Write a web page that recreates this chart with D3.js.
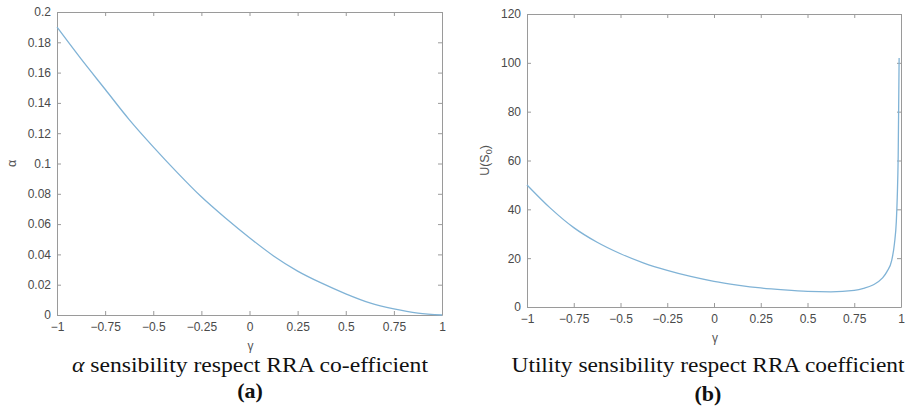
<!DOCTYPE html>
<html>
<head>
<meta charset="utf-8">
<script src="https://cdn.jsdelivr.net/npm/d3@7"></script>
<style>
  body { margin: 0; background: #fff; }
  .tick text { font-family: "Liberation Sans", Arial, sans-serif; font-size: 12px; fill: #4a4a4a; }
  .domain, .tick line { stroke: #9a9a9a; }
</style>
</head>
<body>
<div id="chart"></div>
<script>
// values
const xTicks = [-1, -0.75, -0.5, -0.25, 0, 0.25, 0.5, 0.75, 1];

const gammaA = [-1, -0.875, -0.75, -0.625, -0.5, -0.375, -0.25, -0.125, 0, 0.125, 0.25, 0.375, 0.5, 0.625, 0.75, 0.875, 1];
const alphaVals = [0.19, 0.169, 0.149, 0.129, 0.111, 0.094, 0.078, 0.064, 0.051, 0.039, 0.029, 0.021, 0.014, 0.008, 0.004, 0.0012, 0];
const alphaTicks = [0, 0.02, 0.04, 0.06, 0.08, 0.1, 0.12, 0.14, 0.16, 0.18, 0.2];

const gammaU = [-1, -0.875, -0.75, -0.625, -0.5, -0.375, -0.25, -0.125, 0, 0.125, 0.25, 0.375, 0.5, 0.625, 0.75, 0.8, 0.85, 0.9, 0.925, 0.95, 0.965, 0.975, 0.98, 0.985, 0.99];
const utilVals = [50, 40.5, 32.5, 26.5, 21.8, 18, 15, 12.5, 10.5, 9, 7.8, 7, 6.4, 6.2, 6.8, 7.6, 9, 11.8, 14.5, 19, 26, 35, 45, 62, 102];
const utilTicks = [0, 20, 40, 60, 80, 100, 120];

const W = 914, H = 415;
const lineColor = "#80b3d6";

const svg = d3.select("#chart").append("svg")
  .attr("width", W).attr("height", H)
  .style("background", "#fff");

function drawPanel(p) {
  const x = d3.scaleLinear().domain([-1, 1]).range([p.left, p.right]);
  const y = d3.scaleLinear().domain(p.yDomain).range([p.bottom, p.top]);
  const fmt = d3.format("~g");
  const g = svg.append("g");

  g.append("g")
    .attr("transform", `translate(0,${p.bottom})`)
    .call(d3.axisBottom(x).tickValues(xTicks).tickFormat(fmt).tickSize(-4).tickPadding(7).tickSizeOuter(0));
  g.append("g")
    .attr("transform", `translate(0,${p.top})`)
    .call(d3.axisTop(x).tickValues(xTicks).tickFormat("").tickSize(-4).tickSizeOuter(0));
  g.append("g")
    .attr("transform", `translate(${p.left},0)`)
    .call(d3.axisLeft(y).tickValues(p.yTicks).tickFormat(fmt).tickSize(-4).tickPadding(6).tickSizeOuter(0));
  g.append("g")
    .attr("transform", `translate(${p.right},0)`)
    .call(d3.axisRight(y).tickValues(p.yTicks).tickFormat("").tickSize(-4).tickSizeOuter(0));

  const line = d3.line()
    .x((d, i) => x(p.xs[i]))
    .y(d => y(d))
    .curve(d3.curveMonotoneX);

  g.append("path")
    .datum(p.ys)
    .attr("fill", "none")
    .attr("stroke", lineColor)
    .attr("stroke-width", 1.3)
    .attr("d", line);

  // x label
  g.append("text")
    .attr("x", (p.left + p.right) / 2 + 1)
    .attr("y", p.bottom + 35)
    .attr("text-anchor", "middle")
    .style("font-family", "Liberation Sans, Arial, sans-serif")
    .style("font-size", "12px")
    .style("fill", "#555")
    .text("γ");

  // y label
  const yl = g.append("text")
    .attr("transform", `translate(${p.yLabelX},${(p.top + p.bottom) / 2}) rotate(-90)`)
    .attr("text-anchor", "middle")
    .style("font-family", "Liberation Sans, Arial, sans-serif")
    .style("font-size", "12.5px")
    .style("fill", "#555");
  if (p.yLabelSub) {
    yl.append("tspan").text(p.yLabel);
    yl.append("tspan").attr("dy", 3).style("font-size", "9px").text(p.yLabelSub);
    yl.append("tspan").attr("dy", -3).text(")");
  } else {
    yl.text(p.yLabel);
  }

  // caption
  const cap = g.append("text")
    .attr("x", p.capX)
    .attr("y", 372)
    .attr("text-anchor", "middle")
    .attr("textLength", p.capWidth)
    .attr("lengthAdjust", "spacingAndGlyphs")
    .style("font-family", "Liberation Serif, 'Times New Roman', serif")
    .style("font-size", "22px")
    .style("fill", "#111");
  if (p.capItalic) {
    cap.append("tspan").style("font-style", "italic").text(p.capItalic);
  }
  cap.append("tspan").text(p.caption);

  g.append("text")
    .attr("x", p.capX)
    .attr("y", p.tagY)
    .attr("text-anchor", "middle")
    .style("font-family", "Liberation Serif, 'Times New Roman', serif")
    .style("font-size", "22px")
    .style("font-weight", "bold")
    .style("fill", "#111")
    .text(p.tag);
}

drawPanel({
  left: 57, right: 442, top: 12, bottom: 315,
  yDomain: [0, 0.2], yTicks: alphaTicks,
  xs: gammaA, ys: alphaVals,
  yLabel: "α", yLabelX: 16,
  capX: 250, capWidth: 356, capItalic: "α", caption: " sensibility respect RRA co-efficient",
  tag: "(a)", tagY: 398
});

drawPanel({
  left: 527, right: 901, top: 14, bottom: 307,
  yDomain: [0, 120], yTicks: utilTicks,
  xs: gammaU, ys: utilVals,
  yLabel: "U(S", yLabelSub: "0", yLabelX: 489,
  capX: 708, capWidth: 393, caption: "Utility sensibility respect RRA coefficient",
  tag: "(b)", tagY: 401
});
</script>
</body>
</html>
